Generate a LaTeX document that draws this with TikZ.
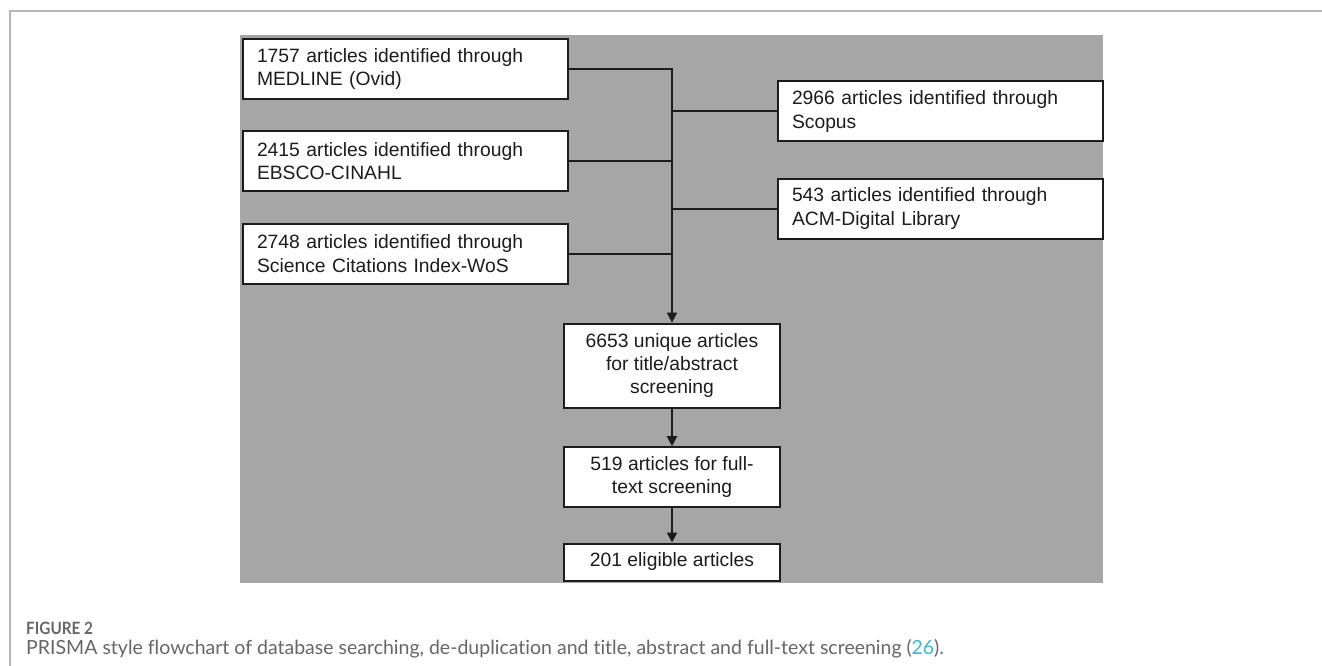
\documentclass[tikz,border=0pt]{standalone}
\usepackage{fontspec}
\setmainfont{Liberation Sans}
\newfontfamily\capfont[Ligatures={NoCommon,NoDiscretionary,NoRare}]{Lato}
\usetikzlibrary{arrows.meta}
\definecolor{panelgray}{HTML}{A6A6A6}
\definecolor{framegray}{HTML}{B4B4B4}
\definecolor{ink}{HTML}{1C1C1C}
\definecolor{captext}{HTML}{666666}
\definecolor{capteal}{HTML}{3DB8C9}
\tikzset{
  srcbox/.style={draw=ink, line width=2pt, fill=white, text=ink,
    minimum width=325pt, minimum height=60pt, text width=296pt,
    inner xsep=14.5pt, align=left,
    font=\fontsize{19.3}{23.3}\selectfont},
  midbox/.style={draw=ink, line width=2pt, fill=white, text=ink,
    minimum width=216pt, inner xsep=4pt, inner ysep=0pt, align=center,
    font=\fontsize{19.3}{23.3}\selectfont},
  conn/.style={draw=ink, line width=2pt},
  arr/.style={conn, -{Triangle[length=10pt,width=10pt]}},
  figlabel/.style={anchor=base west, inner sep=0pt, text=captext,
    font=\capfont\bfseries\fontsize{17}{20}\selectfont},
  captxt/.style={anchor=base west, inner sep=0pt, text=captext,
    font=\capfont\fontsize{19.5}{22}\selectfont}
}
\begin{document}
\begin{tikzpicture}[x=1pt,y=-1pt]
\useasboundingbox (0,0) rectangle (1322,666);
% outer frame
\draw[framegray, line width=1.2pt] (10,666) -- (10,11) -- (1322,11);
% gray panel
\fill[panelgray] (240,35.5) rectangle (1103,583);
% source boxes
\node[srcbox] (med) at (405,68.7) {1757 articles identified through\\MEDLINE (Ovid)};
\node[srcbox] (ebs) at (405,161.2) {2415 articles identified through\\EBSCO-CINAHL};
\node[srcbox] (wos) at (405,253.5) {2748 articles identified through\\Science Citations Index-WoS};
\node[srcbox] (sco) at (940,111.5) {2966 articles identified through\\Scopus};
\node[srcbox] (acm) at (940,208.5) {543 articles identified through\\ACM-Digital Library};
% screening boxes
\node[midbox, minimum height=84pt] (uniq) at (672,365.6) {6653 unique articles\\for title/abstract\\screening};
\node[midbox, minimum height=60pt] (full) at (672,477.2) {519 articles for full-\\text screening};
\node[midbox, minimum height=37pt] (elig) at (672,562) {201 eligible articles};
% connectors
\draw[arr] (med.east) -| (uniq.north);
\draw[conn] (ebs.east) -- (ebs.east -| uniq.north);
\draw[conn] (wos.east) -- (wos.east -| uniq.north);
\draw[conn] (sco.west) -- (sco.west -| uniq.north);
\draw[conn] (acm.west) -- (acm.west -| uniq.north);
\draw[arr] (uniq.south) -- (full.north);
\draw[arr] (full.south) -- (elig.north);
% caption
\node[figlabel] (figno) at (26,634) {\scalebox{0.9}[1]{FIGURE 2}};
\node[captxt] (cap) at (26,654) {PRISMA style flowchart of database searching, de-duplication and title, abstract and full-text screening (\textcolor{capteal}{26}).};
\end{tikzpicture}
\end{document}
